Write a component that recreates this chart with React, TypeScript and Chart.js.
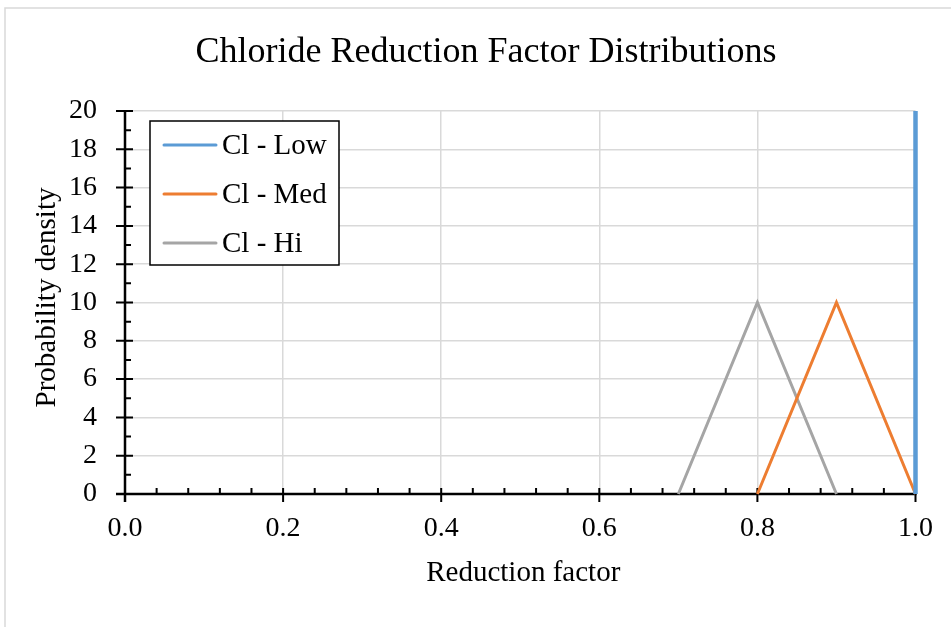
import React, { useEffect, useRef } from "react";
import { Chart, registerables } from "chart.js";

Chart.register(...registerables);

const seriesNames = ["Cl - Low", "Cl - Med", "Cl - Hi"];
const seriesColors = ["#5B9BD5", "#ED7D31", "#A5A5A5"];
const lowX = [1.0, 1.0];
const lowY = [0, 20];
const medX = [0.8, 0.9, 1.0];
const medY = [0, 10, 0];
const hiX = [0.7, 0.8, 0.9];
const hiY = [0, 10, 0];
const xTickValues = [0, 0.2, 0.4, 0.6, 0.8, 1.0];
const yTickValues = [0, 2, 4, 6, 8, 10, 12, 14, 16, 18, 20];
const xMinorStep = 0.04;
const yMinorStep = 1;
const titleText = "Chloride Reduction Factor Distributions";
const xTitleText = "Reduction factor";
const yTitleText = "Probability density";

const FONT = "'Liberation Serif', 'Times New Roman', serif";

const toPoints = (xs: number[], ys: number[]) => xs.map((x, i) => ({ x, y: ys[i] }));

const decorPlugin = {
  id: "decor",
  beforeDatasetsDraw(chart: any) {
    const ctx = chart.ctx;
    const xs = chart.scales.x;
    const ys = chart.scales.y;
    const x0 = xs.getPixelForValue(0);
    const x1 = xs.getPixelForValue(1);
    const y0 = ys.getPixelForValue(0);
    const y1 = ys.getPixelForValue(20);
    ctx.save();
    ctx.strokeStyle = "#000";
    ctx.lineCap = "butt";
    ctx.lineWidth = 2.5;
    ctx.beginPath();
    ctx.moveTo(x0 - 9, y0);
    ctx.lineTo(x1 + 1, y0);
    ctx.moveTo(x0, y0 + 8);
    ctx.lineTo(x0, y1 - 1);
    ctx.stroke();
    ctx.lineWidth = 2;
    ctx.beginPath();
    xTickValues.forEach((v) => {
      const px = xs.getPixelForValue(v);
      ctx.moveTo(px, y0 - 6);
      ctx.lineTo(px, y0 + 8);
    });
    for (let i = 1; i * xMinorStep < 1 - 1e-9; i++) {
      if (i % 5 === 0) continue;
      const px = xs.getPixelForValue(i * xMinorStep);
      ctx.moveTo(px, y0 - 6);
      ctx.lineTo(px, y0);
    }
    yTickValues.forEach((v) => {
      const py = ys.getPixelForValue(v);
      ctx.moveTo(x0 - 9, py);
      ctx.lineTo(x0 + 8, py);
    });
    for (let v = yMinorStep; v < 20; v += 2 * yMinorStep) {
      const py = ys.getPixelForValue(v);
      ctx.moveTo(x0, py);
      ctx.lineTo(x0 + 6, py);
    }
    ctx.stroke();
    ctx.restore();
  },
  afterDraw(chart: any) {
    const ctx = chart.ctx;
    const area = chart.chartArea;
    ctx.save();
    ctx.strokeStyle = "#D9D9D9";
    ctx.lineWidth = 1.5;
    ctx.beginPath();
    ctx.moveTo(5, chart.height);
    ctx.lineTo(5, 8);
    ctx.lineTo(chart.width, 8);
    ctx.stroke();
    ctx.fillStyle = "#000";
    ctx.textAlign = "center";
    ctx.textBaseline = "alphabetic";
    ctx.font = `36px ${FONT}`;
    ctx.fillText(titleText, 486, 62);
    ctx.font = `29px ${FONT}`;
    ctx.fillText(xTitleText, (area.left + area.right) / 2 + 3, 581);
    ctx.save();
    ctx.translate(55, (area.top + area.bottom) / 2 - 5);
    ctx.rotate(-Math.PI / 2);
    ctx.fillText(yTitleText, 0, 0);
    ctx.restore();
    const lx = 150, ly = 121, lw = 189, lh = 144;
    ctx.fillStyle = "#fff";
    ctx.fillRect(lx, ly, lw, lh);
    ctx.strokeStyle = "#000";
    ctx.lineWidth = 1.5;
    ctx.strokeRect(lx, ly, lw, lh);
    ctx.font = `29px ${FONT}`;
    ctx.textAlign = "left";
    ctx.textBaseline = "middle";
    const rows = [145, 194, 243];
    chart.data.datasets.forEach((ds: any, i: number) => {
      ctx.strokeStyle = ds.borderColor;
      ctx.lineWidth = 3;
      ctx.lineCap = "round";
      ctx.beginPath();
      ctx.moveTo(164, rows[i]);
      ctx.lineTo(216, rows[i]);
      ctx.stroke();
      ctx.fillStyle = "#000";
      ctx.fillText(ds.label, 222, rows[i] + 1);
    });
    ctx.restore();
  },
};

export default function App() {
  const ref = useRef<HTMLCanvasElement | null>(null);
  useEffect(() => {
    if (!ref.current) return;
    const chart = new Chart(ref.current, {
      type: "line",
      data: {
        datasets: [
          { label: seriesNames[0], data: toPoints(lowX, lowY), borderColor: seriesColors[0], borderWidth: 4.5 },
          { label: seriesNames[1], data: toPoints(medX, medY), borderColor: seriesColors[1], borderWidth: 3 },
          { label: seriesNames[2], data: toPoints(hiX, hiY), borderColor: seriesColors[2], borderWidth: 3 },
        ].map((d) => ({ ...d, pointRadius: 0, fill: false, tension: 0, clip: false as any })),
      },
      options: {
        responsive: false,
        animation: false,
        devicePixelRatio: 1,
        layout: { padding: { top: 111, right: 35, bottom: 0, left: 0 } },
        plugins: { legend: { display: false }, title: { display: false }, tooltip: { enabled: false } },
        scales: {
          x: {
            type: "linear",
            min: 0,
            max: 1,
            afterBuildTicks: (s: any) => {
              s.ticks = xTickValues.map((v) => ({ value: v }));
            },
            afterFit: (s: any) => {
              s.height = 133;
            },
            ticks: {
              font: { family: FONT, size: 28 },
              color: "#000",
              padding: 18,
              maxRotation: 0,
              callback: (v: any) => Number(v).toFixed(1),
            },
            grid: { color: "#D9D9D9", lineWidth: 1.5, drawTicks: false },
            border: { display: false },
          },
          y: {
            type: "linear",
            min: 0,
            max: 20,
            afterBuildTicks: (s: any) => {
              s.ticks = yTickValues.map((v) => ({ value: v }));
            },
            afterFit: (s: any) => {
              s.width = 125;
            },
            ticks: {
              font: { family: FONT, size: 28 },
              color: "#000",
              padding: 28,
            },
            grid: { color: "#D9D9D9", lineWidth: 1.5, drawTicks: false },
            border: { display: false },
          },
        },
      },
      plugins: [decorPlugin],
    });
    return () => chart.destroy();
  }, []);
  return (
    <div style={{ position: "absolute", left: 0, top: 0, width: 951, height: 627, background: "#fff" }}>
      <canvas ref={ref} width={951} height={627} />
    </div>
  );
}
